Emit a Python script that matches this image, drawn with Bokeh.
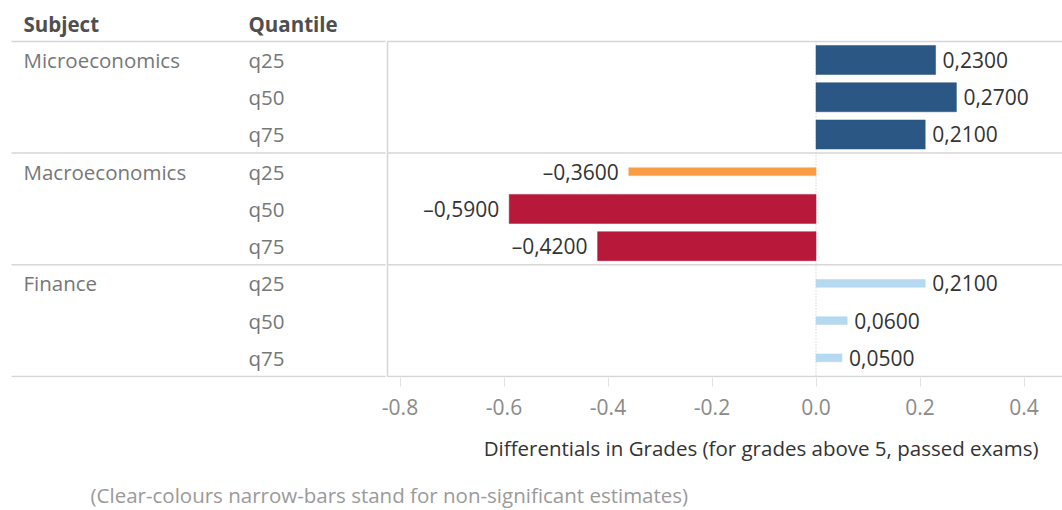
from bokeh.plotting import figure
from bokeh.models import Range1d, FixedTicker, NumeralTickFormatter, Title, ColumnDataSource
from bokeh.core.properties import value
from bokeh.embed import file_html
from bokeh.resources import INLINE

# ---- data -------------------------------------------------------------
subjects = ["Microeconomics", "Macroeconomics", "Finance"]
quantiles = ["q25", "q50", "q75"]
micro_vals = [0.23, 0.27, 0.21]
macro_vals = [-0.36, -0.59, -0.42]
finance_vals = [0.21, 0.06, 0.05]
micro_sig = [True, True, True]
macro_sig = [False, True, True]
finance_sig = [False, False, False]
x_ticks = [-0.8, -0.6, -0.4, -0.2, 0.0, 0.2, 0.4]

axis_title = "Differentials in Grades (for grades above 5, passed exams)"
footnote = "(Clear-colours narrow-bars stand for non-significant estimates)"

# ---- layout helpers -----------------------------------------------------
W, H = 1062, 510
PX_PER_UNIT = 520.0   # horizontal pixels per grade unit
ZERO_PX = 815.5       # pixel column of x = 0
ROW_PX = 37.33        # height of one table row
TOP_PX = 41.0         # top rule of the table
FRAME_H = 378         # plot frame height, axis lives below


def xd(px):
    return (px - ZERO_PX) / PX_PER_UNIT


def yd(py):
    return (py - TOP_PX) / ROW_PX - 0.5


FONT = "Open Sans"
DARK_BLUE = "#2a5783"
RED = "#b8193a"
ORANGE = "#fa9c43"
LIGHT_BLUE = "#b5d9f1"
RULE = "#d6d6d6"
TABLE_SIZE = "20.5px"
VALUE_SIZE = "21px"

# ---- assemble rows ------------------------------------------------------
rows_y, vals, colors, heights, q_col = [], [], [], [], []
for s_idx, (vs, sig) in enumerate([(micro_vals, micro_sig),
                                   (macro_vals, macro_sig),
                                   (finance_vals, finance_sig)]):
    for q_idx, (v, g) in enumerate(zip(vs, sig)):
        rows_y.append(s_idx * 3 + q_idx)
        vals.append(v)
        if v >= 0:
            colors.append(DARK_BLUE if g else LIGHT_BLUE)
        else:
            colors.append(RED if g else ORANGE)
        heights.append(0.78 if g else 0.21)
        q_col.append(quantiles[q_idx])


def fmt(v):
    s = f"{abs(v):.4f}".replace(".", ",")
    return ("\u2013" + s) if v < 0 else s


src = ColumnDataSource(dict(y=rows_y, v=vals, c=colors, h=heights))
pos = ColumnDataSource(dict(y=[y for y, v in zip(rows_y, vals) if v >= 0],
                            v=[v for v in vals if v >= 0],
                            lab=[fmt(v) for v in vals if v >= 0]))
neg = ColumnDataSource(dict(y=[y for y, v in zip(rows_y, vals) if v < 0],
                            v=[v for v in vals if v < 0],
                            lab=[fmt(v) for v in vals if v < 0]))

p = figure(width=W, height=H,
           x_range=Range1d(xd(0), xd(W)),
           y_range=Range1d(yd(FRAME_H), yd(0)),
           output_backend="svg", toolbar_location=None,
           y_axis_location=None,
           min_border_left=0, min_border_right=0, min_border_top=0,
           min_border_bottom=H - FRAME_H)
p.outline_line_color = None
p.grid.visible = False
p.background_fill_color = "white"
p.border_fill_color = "white"

# table rules and frame border
n_rows = 9
rule_y = [-0.5, 2.5, 5.5, 8.5]
p.segment(x0=[xd(11)] * 4, x1=[xd(385)] * 4, y0=rule_y, y1=rule_y,
          line_color=RULE, line_width=1.5)
p.segment(x0=[xd(387)] * 4, x1=[xd(W)] * 4, y0=rule_y, y1=rule_y,
          line_color=RULE, line_width=1.5)
p.segment(x0=[xd(387)], x1=[xd(387)], y0=[-0.5], y1=[n_rows - 0.5],
          line_color=RULE, line_width=1.5)

# zero reference
p.segment(x0=[0], x1=[0], y0=[-0.5], y1=[n_rows - 0.5],
          line_color="#c4c4c4", line_width=1, line_dash="1 2")

# bars
p.hbar(y="y", left=0, right="v", height="h", fill_color="c",
       line_color="c", line_width=0.5, source=src)

# value labels
p.text(x="v", y="y", text="lab", source=pos, x_offset=7,
       text_align="left", text_baseline="middle",
       text_font=value(FONT), text_font_size=VALUE_SIZE, text_color="#333333")
p.text(x="v", y="y", text="lab", source=neg, x_offset=-10,
       text_align="right", text_baseline="middle",
       text_font=value(FONT), text_font_size=VALUE_SIZE, text_color="#333333")

# table header
p.text(x=[xd(23), xd(248)], y=[yd(24)] * 2, text=["Subject", "Quantile"],
       text_align="left", text_baseline="middle",
       text_font=value(FONT), text_font_style="bold",
       text_font_size=TABLE_SIZE, text_color="#4f4f4f")

# subject and quantile labels
p.text(x=[xd(23)] * 3, y=[0, 3, 6], text=subjects,
       text_align="left", text_baseline="middle",
       text_font=value(FONT), text_font_size=TABLE_SIZE, text_color="#777777")
p.text(x=[xd(248)] * n_rows, y=rows_y, text=q_col,
       text_align="left", text_baseline="middle",
       text_font=value(FONT), text_font_size=TABLE_SIZE, text_color="#777777")

# x axis
ax = p.xaxis[0]
ax.ticker = FixedTicker(ticks=x_ticks)
ax.formatter = NumeralTickFormatter(format="0.0")
ax.axis_line_color = None
ax.major_tick_in = 0
ax.major_tick_out = 9
ax.major_tick_line_color = "#e2e2e2"
ax.major_tick_line_width = 1
ax.minor_tick_line_color = None
ax.major_label_standoff = 12
ax.major_label_text_font = FONT
ax.major_label_text_font_size = "21px"
ax.major_label_text_color = "#8a8a8a"

# axis caption and footnote, stacked under the axis
p.add_layout(Title(text=axis_title, align="right", offset=24, standoff=33,
                   vertical_align="top",
                   text_font=FONT, text_font_size="20.5px",
                   text_font_style="normal", text_color="#333333"), "below")
p.add_layout(Title(text=footnote, align="left", offset=90, standoff=0,
                   vertical_align="top",
                   text_font=FONT, text_font_size="20.5px",
                   text_font_style="normal", text_color="#9a9a9a"), "below")

open("out.html", "w").write(file_html(p, INLINE))
